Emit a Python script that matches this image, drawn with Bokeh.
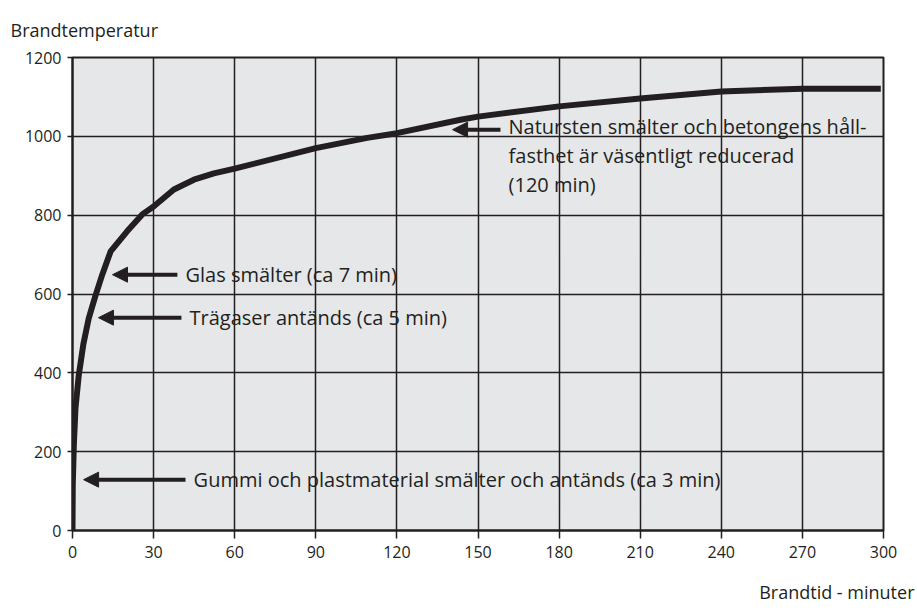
from bokeh.plotting import figure
from bokeh.models import Range1d, FixedTicker, Arrow, NormalHead, Label, Title
from bokeh.embed import file_html
from bokeh.resources import INLINE

# Fire curve: time (min) vs temperature
minutes = [0, 0.1, 0.5, 1.1, 2.3, 4.0, 6.0, 8.5, 11.0, 14.1, 20.2, 25.8, 30, 37.5,
           44.9, 52.3, 60, 90, 109, 120, 143.5, 150, 180, 210, 240, 270, 299]
temperature = [0, 117, 218, 310, 393, 472, 538, 596, 649, 708, 759, 802, 822, 865,
               890, 906, 918, 970, 996, 1008, 1042, 1050, 1076, 1096, 1114, 1121, 1121]

x_ticks = [0, 30, 60, 90, 120, 150, 180, 210, 240, 270, 300]
y_ticks = [0, 200, 400, 600, 800, 1000, 1200]

notes = [
    "Gummi och plastmaterial smälter och antänds (ca 3 min)",
    "Trägaser antänds (ca 5 min)",
    "Glas smälter (ca 7 min)",
]
note_big = ["Natursten smälter och betongens håll-",
            "fasthet är väsentligt reducerad",
            "(120 min)"]

FONT = "Open Sans"
INK = "#231f20"

p = figure(frame_width=811, frame_height=473,
           min_border_left=72, min_border_right=34, min_border_top=56, min_border_bottom=79,
           x_range=Range1d(0, 300), y_range=Range1d(0, 1200),
           output_backend="svg", toolbar_location=None, tools="")

p.background_fill_color = "#e6e7e9"
p.border_fill_color = "white"
p.outline_line_color = INK
p.outline_line_width = 2

for ax in (p.xaxis[0], p.yaxis[0]):
    ax.axis_line_color = INK
    ax.axis_line_width = 2
    ax.major_tick_line_color = INK
    ax.major_tick_line_width = 1.5
    ax.major_tick_in = 0
    ax.minor_tick_line_color = None
    ax.major_label_text_font = FONT
    ax.major_label_text_font_size = "16px"
    ax.major_label_text_color = INK

p.xaxis[0].ticker = FixedTicker(ticks=x_ticks)
p.yaxis[0].ticker = FixedTicker(ticks=y_ticks)
p.xaxis[0].major_tick_out = 8
p.xaxis[0].major_label_standoff = 7
p.yaxis[0].major_tick_out = 5
p.yaxis[0].major_label_standoff = 6

p.xgrid.ticker = FixedTicker(ticks=x_ticks)
p.ygrid.ticker = FixedTicker(ticks=y_ticks)
for g in (p.xgrid[0], p.ygrid[0]):
    g.grid_line_color = INK
    g.grid_line_width = 1.5
    g.grid_line_alpha = 1.0

p.line(minutes, temperature, line_color=INK, line_width=6, line_join="round")

# annotation arrows (tip x, tail x, y) and texts
arrows = [(4.1, 41.8, 129), (9.6, 40.3, 540), (14.8, 38.8, 649), (140.6, 158.3, 1017)]
for x_tip, x_tail, y in arrows:
    p.add_layout(Arrow(x_start=x_tail, y_start=y, x_end=x_tip, y_end=y,
                       line_color=INK, line_width=4,
                       end=NormalHead(size=15, fill_color=INK, line_color=INK, line_width=1)))

note_pos = [(44.8, 129), (43.3, 540), (41.8, 649)]
for (x, y), t in zip(note_pos, notes):
    p.add_layout(Label(x=x, y=y, text=t, text_font=FONT, text_font_size="20px",
                       text_color=INK, text_baseline="middle", text_align="left"))
for y, t in zip([1025, 951, 878], note_big):
    p.add_layout(Label(x=161.3, y=y, text=t, text_font=FONT, text_font_size="20px",
                       text_color=INK, text_baseline="middle", text_align="left"))

# axis titles
p.add_layout(Title(text="Brandtemperatur", align="left", offset=-62, standoff=31,
                   text_font=FONT, text_font_size="18px", text_font_style="normal",
                   text_color=INK), "above")
p.add_layout(Title(text="Brandtid - minuter", align="right", offset=-31, standoff=34,
                   text_font=FONT, text_font_size="18px", text_font_style="normal",
                   text_color=INK), "below")

open("out.html", "w").write(file_html(p, INLINE))
